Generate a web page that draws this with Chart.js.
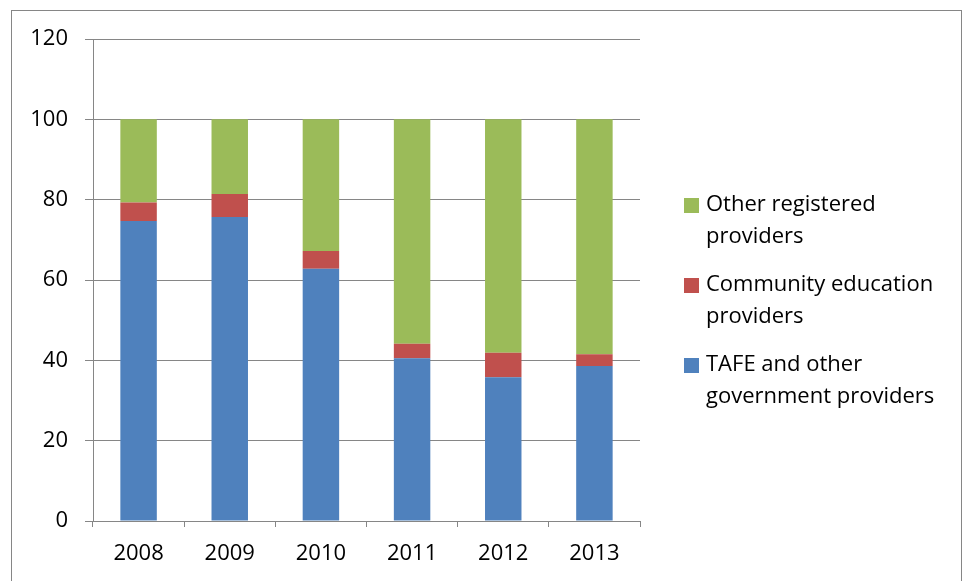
<!DOCTYPE html>
<html lang="en">
<head>
    <meta charset="UTF-8">
    <title>Providers share</title>
    <script src="https://cdn.jsdelivr.net/npm/chart.js"></script>
    <style>
        html, body { margin: 0; background: #fff; font-family: "Open Sans", sans-serif; overflow: hidden; }
        .frame {
            position: absolute; left: 11px; top: 10px;
            width: 949px; height: 600px;
            border: 1px solid #868686;
        }
        .chart-box { position: absolute; left: 0; top: 0; width: 962px; height: 581px; }
        .legend { position: absolute; left: 684px; top: 186px; margin: 0; padding: 0; list-style: none; }
        .legend li { position: relative; padding-left: 22px; height: 80px; font-size: 22px; line-height: 32px; color: #000; }
        .legend li span.box { position: absolute; left: 0; top: 12px; width: 15px; height: 15px; }
    </style>
</head>
<body>
    <div class="frame"></div>
    <div class="chart-box"><canvas id="bar_chart" width="962" height="581"></canvas></div>
    <ul class="legend" id="legend"></ul>

    <script>
        const years = ["2008", "2009", "2010", "2011", "2012", "2013"];
        const tafe = [74.7, 75.7, 62.8, 40.5, 35.8, 38.6];
        const community = [4.6, 5.7, 4.4, 3.6, 6.1, 2.9];
        const other = [20.7, 18.6, 32.8, 55.9, 58.1, 58.5];
        const seriesNames = [
            ["TAFE and other", "government providers"],
            ["Community education", "providers"],
            ["Other registered", "providers"]
        ];
        const seriesColors = ["#4F81BD", "#C0504D", "#9BBB59"];

        const gridGray = "#868686";
        const sets = [tafe, community, other].map((vals, i) => ({
            label: seriesNames[i].join(" "),
            data: vals,
            backgroundColor: seriesColors[i],
            borderWidth: 0,
            barPercentage: 0.8,
            categoryPercentage: 0.5
        }));

        new Chart("bar_chart", {
            type: "bar",
            data: { labels: years, datasets: sets },
            options: {
                responsive: false,
                animation: false,
                layout: { padding: { top: 39, right: 322, left: 0, bottom: 0 } },
                plugins: { legend: { display: false }, tooltip: { enabled: false } },
                scales: {
                    x: {
                        stacked: true,
                        grid: { display: true, drawOnChartArea: false, offset: true, tickLength: 6, color: gridGray },
                        border: { color: gridGray },
                        ticks: { color: "#000", padding: 14, font: { family: "Open Sans", size: 22 } },
                        afterFit: s => { s.height = 60; }
                    },
                    y: {
                        stacked: true,
                        min: 0, max: 120,
                        ticks: { stepSize: 20, color: "#000", padding: 17, font: { family: "Open Sans", size: 22 } },
                        grid: { color: gridGray, tickLength: 8 },
                        border: { color: gridGray },
                        afterFit: s => { s.width = 93; }
                    }
                }
            }
        });

        // legend, reversed like the original
        const ul = document.getElementById("legend");
        for (let i = seriesNames.length - 1; i >= 0; i--) {
            const li = document.createElement("li");
            li.innerHTML = '<span class="box" style="background:' + seriesColors[i] + '"></span>' +
                seriesNames[i].join("<br>");
            ul.appendChild(li);
        }
    </script>
</body>
</html>
